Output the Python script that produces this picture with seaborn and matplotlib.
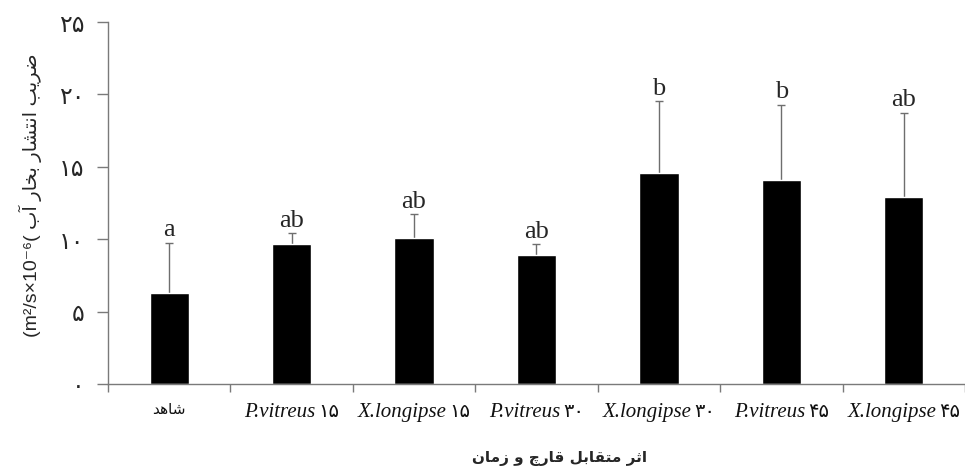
import numpy as np
import pandas as pd
import matplotlib
matplotlib.use("Agg")
import matplotlib.pyplot as plt
from matplotlib.offsetbox import TextArea, HPacker, AnnotationBbox
import seaborn as sns

# ---------------- data ----------------
categories = ["شاهد", "P.vitreus ۱۵", "X.longipse ۱۵", "P.vitreus ۳۰",
              "X.longipse ۳۰", "P.vitreus ۴۵", "X.longipse ۴۵"]
means = [6.3, 9.67, 10.1, 8.9, 14.55, 14.1, 12.9]
errors = [3.45, 0.76, 1.65, 0.77, 4.98, 5.2, 5.85]
letters = ["a", "ab", "ab", "ab", "b", "b", "ab"]
ytick_values = [0, 5, 10, 15, 20, 25]
ytick_labels = ["۰", "۵", "۱۰", "۱۵", "۲۰", "۲۵"]
ylabel_fa = "ضریب انتشار بخار آب"
ylabel_unit = "(m²/s×10⁻⁶("
xlabel_fa = "اثر متقابل قارچ و زمان"

# ------------- minimal Persian shaping (presentation forms + RTL) -------------
FORMS = {
    "\u0627": ("\uFE8D", "\uFE8E", None, None),
    "\u0622": ("\uFE81", "\uFE82", None, None),
    "\u0628": ("\uFE8F", "\uFE90", "\uFE91", "\uFE92"),
    "\u062A": ("\uFE95", "\uFE96", "\uFE97", "\uFE98"),
    "\u062B": ("\uFE99", "\uFE9A", "\uFE9B", "\uFE9C"),
    "\u062C": ("\uFE9D", "\uFE9E", "\uFE9F", "\uFEA0"),
    "\u062E": ("\uFEA5", "\uFEA6", "\uFEA7", "\uFEA8"),
    "\u062F": ("\uFEA9", "\uFEAA", None, None),
    "\u0631": ("\uFEAD", "\uFEAE", None, None),
    "\u0632": ("\uFEAF", "\uFEB0", None, None),
    "\u0634": ("\uFEB5", "\uFEB6", "\uFEB7", "\uFEB8"),
    "\u0636": ("\uFEBD", "\uFEBE", "\uFEBF", "\uFEC0"),
    "\u0642": ("\uFED5", "\uFED6", "\uFED7", "\uFED8"),
    "\u0644": ("\uFEDD", "\uFEDE", "\uFEDF", "\uFEE0"),
    "\u0645": ("\uFEE1", "\uFEE2", "\uFEE3", "\uFEE4"),
    "\u0646": ("\uFEE5", "\uFEE6", "\uFEE7", "\uFEE8"),
    "\u0647": ("\uFEE9", "\uFEEA", "\uFEEB", "\uFEEC"),
    "\u0648": ("\uFEED", "\uFEEE", None, None),
    "\u06CC": ("\uFBFC", "\uFBFD", "\uFBFE", "\uFBFF"),
    "\u0686": ("\uFB7A", "\uFB7B", "\uFB7C", "\uFB7D"),
}
FA_DIGITS = "۰۱۲۳۴۵۶۷۸۹"


def shape_fa(text):
    out = []
    for i, ch in enumerate(text):
        f = FORMS.get(ch)
        if f is None:
            out.append(ch)
            continue
        prev = text[i - 1] if i > 0 else ""
        nxt = text[i + 1] if i + 1 < len(text) else ""
        jp = prev in FORMS and FORMS[prev][2] is not None
        jn = f[2] is not None and nxt in FORMS
        if jp and jn:
            out.append(f[3])
        elif jp:
            out.append(f[1])
        elif jn:
            out.append(f[2])
        else:
            out.append(f[0])
    return "".join(out)[::-1]


def has_arabic_letters(s):
    return any(c in FORMS for c in s)


def split_label(s):
    j = len(s)
    while j > 0 and s[j - 1] in FA_DIGITS:
        j -= 1
    return s[:j].strip(), s[j:]


# ---------------- plot ----------------
sns.set_style("ticks")
plt.rcParams["font.family"] = ["DejaVu Sans"]

fig = plt.figure(figsize=(9.65, 4.70), dpi=100)
ax = fig.add_axes([0.1119, 0.183, 0.8881, 0.770])

df = pd.DataFrame({"treatment": categories, "value": means})
sns.barplot(data=df, x="treatment", y="value", color="black", saturation=1,
            width=0.32, errorbar=None, ax=ax, zorder=2)

x = np.arange(len(categories))
m = np.array(means)
e = np.array(errors)
eb = ax.errorbar(x, m, yerr=[np.zeros_like(e), e], fmt="none", ecolor="#6e6e6e",
                 elinewidth=1.0, capsize=3, capthick=1.0, zorder=1)
for cl in eb[1]:
    if np.allclose(cl.get_ydata(), m):
        cl.set_visible(False)

for xi, mi, ei, lab in zip(x, m, e, letters):
    ax.annotate(lab, (xi, mi + ei), xytext=(0, 1), textcoords="offset points",
                ha="center", va="bottom", fontsize=19,
                family=["Liberation Serif", "DejaVu Serif"])

ax.set_xlim(-0.5, len(categories) - 0.5)
ax.set_ylim(0, 25)
ax.set_yticks(ytick_values)
ax.set_yticklabels(ytick_labels, fontsize=17)
ax.tick_params(axis="y", length=8, width=1, color="#7a7a7a", pad=9, direction="out")

ax.set_xticks(x)
ax.set_xticklabels([""] * len(categories))
ax.tick_params(axis="x", which="major", length=0)
ax.set_xticks(np.arange(-0.5, len(categories), 1.0), minor=True)
ax.tick_params(axis="x", which="minor", length=6, width=1, color="#7a7a7a", direction="out")

# category labels: italic serif species name + upright Persian digits
for xi, c in zip(x, categories):
    if has_arabic_letters(c):
        box = TextArea(shape_fa(c), textprops=dict(fontsize=11, family=["DejaVu Sans"],
                                                   color="#111111"))
    else:
        latin, digits = split_label(c)
        parts = [TextArea(latin, textprops=dict(fontsize=15, style="italic",
                                                family=["Liberation Serif"], color="#111111"))]
        if digits:
            parts.append(TextArea(digits, textprops=dict(fontsize=14, family=["DejaVu Sans"],
                                                         color="#111111")))
        box = HPacker(children=parts, align="baseline", pad=0, sep=2)
    ab = AnnotationBbox(box, (xi, 0), xycoords=("data", "axes fraction"),
                        xybox=(0, -13), boxcoords="offset points",
                        box_alignment=(0.5, 1), frameon=False, pad=0,
                        annotation_clip=False)
    ax.add_artist(ab)

for s in ["top", "right"]:
    ax.spines[s].set_visible(False)
for s in ["left", "bottom"]:
    ax.spines[s].set_color("#7a7a7a")
    ax.spines[s].set_linewidth(1)

ax.set_xlabel("")
ax.set_ylabel("")
fig.text(560 / 965, 1 - 458 / 470, shape_fa(xlabel_fa), ha="center", va="center",
         fontsize=11, fontweight="bold", family=["DejaVu Sans"])
fig.text(30 / 965, 1 - 195 / 470, ylabel_unit + " " + shape_fa(ylabel_fa),
         rotation=90, ha="center", va="center", fontsize=14,
         family=["Liberation Sans", "DejaVu Sans"])

fig.savefig("out.png", dpi=100)
